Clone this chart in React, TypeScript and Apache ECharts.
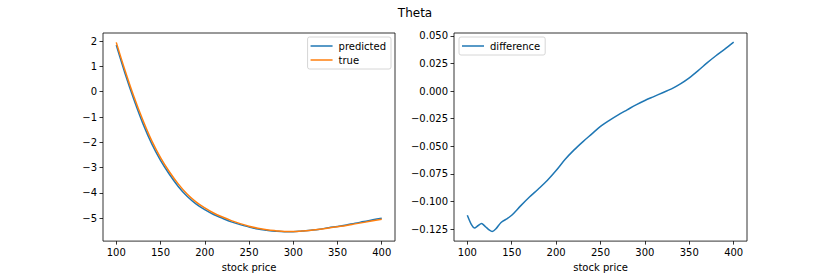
import React, { useEffect, useRef } from "react";
import * as echarts from "echarts";

const prices = [100, 110, 120, 130, 140, 150, 160, 170, 180, 190, 200, 210, 220, 230, 240, 250, 260, 270, 280, 290, 300, 310, 320, 330, 340, 350, 360, 370, 380, 390, 400];
const trueTheta = [1.95, 0.83, -0.2, -1.12, -1.93, -2.6, -3.16, -3.64, -4.04, -4.35, -4.59, -4.79, -4.95, -5.09, -5.21, -5.31, -5.39, -5.45, -5.49, -5.52, -5.52, -5.5, -5.47, -5.43, -5.38, -5.33, -5.28, -5.22, -5.16, -5.1, -5.04];
const predictedTheta = [1.84, 0.71, -0.32, -1.25, -2.05, -2.71, -3.26, -3.74, -4.13, -4.43, -4.66, -4.85, -5.0, -5.14, -5.25, -5.34, -5.42, -5.47, -5.51, -5.53, -5.53, -5.5, -5.47, -5.43, -5.37, -5.32, -5.26, -5.19, -5.13, -5.06, -5.0];

const diffPrices = [100, 105, 108, 112, 116, 120, 125, 128, 132, 138, 145, 150, 160, 170, 180, 190, 200, 210, 220, 230, 240, 250, 260, 270, 280, 290, 300, 310, 320, 330, 340, 350, 360, 370, 380, 390, 400];
const difference = [-0.1124, -0.1215, -0.124, -0.122, -0.12, -0.1225, -0.126, -0.1272, -0.125, -0.119, -0.1155, -0.1125, -0.104, -0.096, -0.0887, -0.081, -0.072, -0.062, -0.0535, -0.046, -0.039, -0.032, -0.0265, -0.0215, -0.017, -0.0125, -0.0085, -0.005, -0.0015, 0.002, 0.0065, 0.012, 0.0185, 0.0255, 0.032, 0.038, 0.0443];

const xTicks = [100, 150, 200, 250, 300, 350, 400];
const leftYTicks = [-5, -4, -3, -2, -1, 0, 1, 2];
const rightYTicks = [-0.125, -0.1, -0.075, -0.05, -0.025, 0, 0.025, 0.05];

const FONT = "DejaVu Sans";
const minus = (s: string) => s.replace("-", "\u2212");

export default function App() {
  const ref = useRef<HTMLDivElement>(null);
  useEffect(() => {
    if (!ref.current) return;
    const chart = echarts.init(ref.current, null, { renderer: "svg" });
    const xAxisBase = (gridIndex: number) => ({
      type: "value",
      gridIndex,
      min: 85,
      max: 415,
      name: "stock price",
      nameLocation: "middle",
      nameGap: 17,
      nameTextStyle: { fontFamily: FONT, fontSize: 10, color: "#000" },
      axisLine: { show: false, onZero: false },
      splitLine: { show: false },
      axisTick: { show: true, length: 3.5, customValues: xTicks, lineStyle: { color: "#000", width: 0.8 } },
      axisLabel: { customValues: xTicks, margin: 6, fontFamily: FONT, fontSize: 10, color: "#000", formatter: (v: number) => String(v) },
    });
    const yAxisBase = (gridIndex: number, min: number, max: number, ticks: number[], fmt: (v: number) => string) => ({
      type: "value",
      gridIndex,
      min,
      max,
      axisLine: { show: false, onZero: false },
      splitLine: { show: false },
      axisTick: { show: true, length: 3.5, customValues: ticks, lineStyle: { color: "#000", width: 0.8 } },
      axisLabel: { customValues: ticks, margin: 6, fontFamily: FONT, fontSize: 10, color: "#000", formatter: fmt },
    });
    const legendBase = {
      orient: "vertical",
      top: 37,
      icon: "rect",
      itemWidth: 22,
      itemHeight: 1.5,
      itemGap: 4,
      padding: [4, 5, 4, 3],
      borderColor: "#ccc",
      borderWidth: 0.8,
      borderRadius: 2,
      backgroundColor: "rgba(255,255,255,0.8)",
      textStyle: { fontFamily: FONT, fontSize: 10, color: "#000", padding: [0, 0, 0, 1] },
      selectedMode: false,
    };
    chart.setOption({
      animation: false,
      backgroundColor: "#fff",
      title: {
        text: "Theta",
        left: "center",
        top: 2,
        textStyle: { fontFamily: FONT, fontSize: 12, fontWeight: "normal", color: "#000" },
      },
      grid: [
        { left: 103, top: 33, width: 292, height: 214, show: true, borderColor: "#000", borderWidth: 0.8, backgroundColor: "transparent" },
        { left: 454, top: 33, width: 293, height: 214, show: true, borderColor: "#000", borderWidth: 0.8, backgroundColor: "transparent" },
      ],
      xAxis: [xAxisBase(0), xAxisBase(1)],
      yAxis: [
        yAxisBase(0, -5.9, 2.32, leftYTicks, (v: number) => minus(String(v))),
        yAxisBase(1, -0.1359, 0.0526, rightYTicks, (v: number) => minus(v.toFixed(3))),
      ],
      legend: [
        { ...legendBase, data: ["predicted", "true"], right: 439 },
        { ...legendBase, data: ["difference"], left: 459 },
      ],
      series: [
        {
          name: "predicted",
          type: "line",
          xAxisIndex: 0,
          yAxisIndex: 0,
          data: prices.map((p, i) => [p, predictedTheta[i]]),
          smooth: 0.4,
          showSymbol: false,
          color: "#1f77b4",
          lineStyle: { width: 1.5, color: "#1f77b4" },
        },
        {
          name: "true",
          type: "line",
          xAxisIndex: 0,
          yAxisIndex: 0,
          data: prices.map((p, i) => [p, trueTheta[i]]),
          smooth: 0.4,
          showSymbol: false,
          color: "#ff7f0e",
          lineStyle: { width: 1.5, color: "#ff7f0e" },
        },
        {
          name: "difference",
          type: "line",
          xAxisIndex: 1,
          yAxisIndex: 1,
          data: diffPrices.map((p, i) => [p, difference[i]]),
          smooth: 0.3,
          showSymbol: false,
          color: "#1f77b4",
          lineStyle: { width: 1.5, color: "#1f77b4" },
        },
      ],
    });
    return () => chart.dispose();
  }, []);
  return <div ref={ref} style={{ width: 830, height: 277, position: "absolute", left: 0, top: 0 }} />;
}
